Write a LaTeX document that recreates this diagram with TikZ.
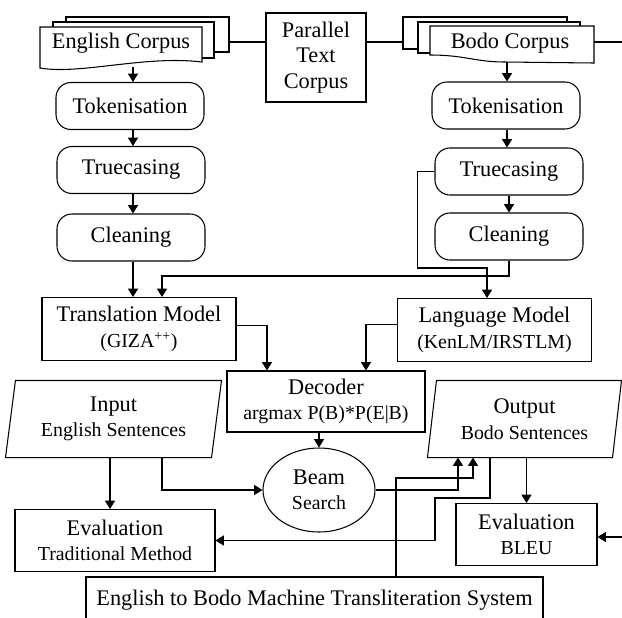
\documentclass[tikz,border=0pt]{standalone}
\usepackage{fontspec}
\setmainfont{Liberation Serif}
\usetikzlibrary{shapes.geometric,arrows.meta}
\newcommand{\subtxt}{\fontsize{11.3}{13}\selectfont}

\begin{document}
\begin{tikzpicture}[
    font=\fontsize{12.7}{14.5}\selectfont,
    line width=0.6pt,
    >={Triangle[length=4.8pt,width=5.8pt]},
    stepbox/.style={draw, rounded corners=8.5pt, minimum width=2.96cm, minimum height=0.94cm},
    modelbox/.style={draw, align=center, minimum width=3.88cm, minimum height=1.26cm},
    evalbox/.style={draw, align=center, minimum height=1.24cm},
    slanted/.style={align=center, minimum height=1.52cm}
]
    \clip (0,0) rectangle (12.44,-12.34);

    % English corpus stack
    \draw[fill=white] (1.32,-0.34) rectangle (4.58,-1.04);
    \draw[fill=white] (1.06,-0.44) rectangle (4.28,-1.16);
    \draw[fill=white] (0.80,-0.54) -- (4.04,-0.54) -- (4.04,-1.24)
        .. controls (2.9,-1.10) and (1.6,-1.50) .. (0.80,-1.36) -- cycle;
    \node (engc) at (2.42,-0.86) {English Corpus};
    \coordinate (engbot) at (2.66,-1.34);
    \coordinate (engside) at (4.58,-0.84);

    % Parallel corpus
    \node[draw, align=center, minimum width=2cm, minimum height=1.78cm,
        font=\fontsize{12.7}{14.7}\selectfont] (par) at (6.32,-1.15) {Parallel\\Text\\Corpus};

    % Bodo corpus stack
    \draw[fill=white] (8.06,-0.34) rectangle (11.34,-0.98);
    \draw[fill=white] (8.36,-0.44) rectangle (11.60,-1.06);
    \draw[fill=white] (8.60,-0.52) -- (11.88,-0.52) -- (11.88,-1.26) -- (10.1,-1.24)
        .. controls (9.5,-1.24) and (9.3,-1.10) .. (8.60,-1.10) -- cycle;
    \node (bodoc) at (10.2,-0.86) {Bodo Corpus};
    \coordinate (bodobot) at (10.14,-1.24);
    \coordinate (bodoleft) at (8.06,-0.84);
    \coordinate (bodoside) at (11.88,-0.84);
    \coordinate (rimtop) at (12.44,-0.84);

    \draw (engside) -- (engside -| par.west);
    \draw (par.east |- bodoleft) -- (bodoleft);
    \draw (bodoside) -- (rimtop);

    % Preprocessing steps
    \node[stepbox] (tokE) at (2.60,-2.12) {Tokenisation};
    \node[stepbox] (truE) at (2.62,-3.40) {Truecasing};
    \node[stepbox] (clnE) at (2.62,-4.75) {Cleaning};
    \node[stepbox] (tokB) at (10.12,-2.11) {Tokenisation};
    \node[stepbox] (truB) at (10.18,-3.43) {Truecasing};
    \node[stepbox] (clnB) at (10.18,-4.73) {Cleaning};

    \draw[->] (engbot) -- (engbot |- tokE.north);
    \draw[->] (engbot |- tokE.south) -- (engbot |- truE.north);
    \draw[->] (engbot |- truE.south) -- (engbot |- clnE.north);
    \draw[->] (bodobot) -- (bodobot |- tokB.north);
    \draw[->] (bodobot |- tokB.south) -- (bodobot |- truB.north);
    \draw[->] (truB.south) -- (clnB.north);

    % Models
    \node[modelbox] (trans) at (2.78,-6.58) {Translation Model\\{\subtxt (GIZA\textsuperscript{++})}};
    \node[modelbox] (lang) at (9.89,-6.60) {Language Model\\{\subtxt (KenLM/IRSTLM)}};
    \coordinate (tmin) at (3.24,-5.52);
    \coordinate (lmin) at (9.74,-5.36);

    \draw[->] (engbot |- clnE.south) -- (engbot |- trans.north);
    \draw[->] (clnB.south) |- (tmin) -- (tmin |- trans.north);
    \draw[->] (truB.west) -- ++(-0.34,0) |- (lmin) -- (lmin |- lang.north);

    % Decoding
    \node[draw, align=center, minimum width=3.96cm, minimum height=1.22cm] (dec) at (6.52,-8.03)
        {Decoder\\{\subtxt argmax P(B)*P(E|B)}};
    \draw[->] ([yshift=2pt]trans.east) -| ([xshift=-1.18cm]dec.north);
    \draw[->] ([yshift=3pt]lang.west) -| ([xshift=0.80cm]dec.north);

    \node[slanted, minimum width=4.1cm] (inp) at (2.27,-8.38) {Input\\{\subtxt English Sentences}};
    \draw ([xshift=1mm]inp.north west) -- ([xshift=1mm]inp.north east)
        -- ([xshift=-1mm]inp.south east) -- ([xshift=-1mm]inp.south west) -- cycle;
    \node[slanted, minimum width=3.68cm] (outp) at (10.49,-8.38) {Output\\{\subtxt Bodo Sentences}};
    \draw ([xshift=0.9mm]outp.north west) -- ([xshift=0.9mm]outp.north east)
        -- ([xshift=-0.9mm]outp.south east) -- ([xshift=-0.9mm]outp.south west) -- cycle;

    \node[draw, ellipse, minimum width=2.24cm, minimum height=1.68cm, inner sep=0pt, align=center]
        (beam) at (6.38,-9.80) {Beam\\{\subtxt Search}};
    \draw[->] (dec.south -| beam.north) -- (beam.north);

    % Evaluation
    \node[evalbox, minimum width=4cm] (evalT) at (2.30,-10.81) {Evaluation\\{\subtxt Traditional Method}};
    \node[evalbox, minimum width=2.82cm] (evalB) at (10.53,-10.69) {Evaluation\\{\subtxt BLEU}};
    \node[draw, minimum width=9.14cm, text height=0.46cm, text depth=0.5cm, inner sep=0.1cm, anchor=base]
        (sys) at (6.29,-12.10) {English to Bodo Machine Transliteration System};
    \coordinate (sysknee) at (9.46,-9.56);
    \coordinate (evalknee) at (8.70,-9.96);
    \coordinate (rimbot) at (12.44,-10.74);

    \draw[->] ([xshift=-0.07cm]inp.south) -- ([xshift=-0.1cm]evalT.north);
    \draw[->] ([xshift=0.97cm]inp.south) |- (beam.west);
    \draw[->] (beam.east) -| ([xshift=-1.33cm]outp.south);
    \draw[->] ([xshift=1.63cm]sys.north) |- (sysknee) -- (sysknee |- outp.south);
    \draw[->] ([xshift=-0.69cm]outp.south) |- (evalknee) |- (evalT.east);
    \draw[->] (outp.south -| evalB.north) -- (evalB.north);
    \draw[->] (rimbot) -- (rimbot -| evalB.east);
\end{tikzpicture}
\end{document}
